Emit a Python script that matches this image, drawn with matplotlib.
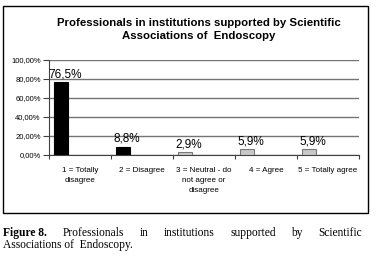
import matplotlib
matplotlib.use("Agg")
import matplotlib.pyplot as plt
from matplotlib.patches import Rectangle
from matplotlib.ticker import FuncFormatter
import numpy as np

# data
categories = ["1 = Totally\ndisagree", "2 = Disagree", "3 = Neutral - do\nnot agree or\ndisagree",
              "4 = Agree", "5 = Totally agree"]
percent = [76.5, 8.8, 2.9, 5.9, 5.9]
value_labels = ["76,5%", "8,8%", "2,9%", "5,9%", "5,9%"]
bar_colors = ["black", "black", "#c8c8c8", "#c8c8c8", "#c8c8c8"]
edge_colors = ["black", "black", "#7a7a7a", "#7a7a7a", "#7a7a7a"]
y_ticks = [0, 20, 40, 60, 80, 100]

title = "Professionals in institutions supported by Scientific\nAssociations of  Endoscopy"
caption_line1 = ["Figure 8.", "Professionals", "in", "institutions", "supported", "by", "Scientific"]
caption_line2 = "Associations of  Endoscopy."

W, H = 387, 275
fig = plt.figure(figsize=(W / 100, H / 100), dpi=100)

# outer frame around the chart
fig.patches.append(Rectangle((3 / W, 1 - 213 / H), 365 / W, 207 / H, transform=fig.transFigure,
                             fill=False, edgecolor="black", linewidth=1.0))

ax = fig.add_axes([49 / W, 1 - 155 / H, 310 / W, 95 / H])

x = np.arange(len(percent))
offset = -0.31
ax.bar(x + offset, percent, width=0.22, color=bar_colors, edgecolor=edge_colors, linewidth=0.8, zorder=3)

for xi, v, lab in zip(x, percent, value_labels):
    ax.annotate(lab, (xi + offset, v), xytext=(3, 1.5), textcoords="offset points",
                ha="center", va="bottom", fontsize=8.5, family="Liberation Sans", zorder=4)

ax.set_xlim(-0.5, 4.5)
ax.set_ylim(0, 100)
ax.set_yticks(y_ticks)
ax.yaxis.set_major_formatter(FuncFormatter(lambda v, p: f"{v:.2f}%".replace(".", ",")))
ax.grid(axis="y", color="#757575", linewidth=1.0, zorder=0)

ax.set_xticks(np.arange(-0.5, 5, 1))
ax.set_xticklabels([])
ax.set_xticks(x, minor=True)
ax.set_xticklabels(categories, minor=True, fontsize=5.8, family="Liberation Sans", linespacing=1.6, va="top")
ax.tick_params(axis="x", which="minor", length=0, pad=8.5)
ax.tick_params(axis="x", which="major", length=3, width=0.8, color="#404040")
ax.tick_params(axis="y", length=4, width=0.8, pad=2, labelsize=5.5, color="#404040")
for t in ax.get_yticklabels():
    t.set_family("Liberation Sans")

for s in ["top", "right"]:
    ax.spines[s].set_visible(False)
ax.spines["left"].set_color("#404040")
ax.spines["bottom"].set_color("#404040")
ax.spines["left"].set_linewidth(0.8)
ax.spines["bottom"].set_linewidth(0.8)

fig.text(199 / W, 1 - 29.5 / H, title, ha="center", va="center", fontsize=8.2, fontweight="bold",
         family="Liberation Sans", linespacing=1.3)

# caption, justified first line
cap_y1 = 1 - 233 / H
cap_y2 = 1 - 245 / H
cap_size = 8.3
fig.canvas.draw()
renderer = fig.canvas.get_renderer()
words = [fig.text(0, cap_y1, w, ha="left", va="center", fontsize=cap_size, family="Liberation Serif",
                  fontweight="bold" if i == 0 else "normal")
         for i, w in enumerate(caption_line1)]
widths = [t.get_window_extent(renderer).width for t in words]
left, right = 3.0, 362.0
gap = (right - left - sum(widths)) / (len(words) - 1)
pos = left
for t, w in zip(words, widths):
    t.set_x(pos / W)
    pos += w + gap
fig.text(3 / W, cap_y2, caption_line2, ha="left", va="center", fontsize=cap_size, family="Liberation Serif")

fig.savefig("out.png", dpi=100)
